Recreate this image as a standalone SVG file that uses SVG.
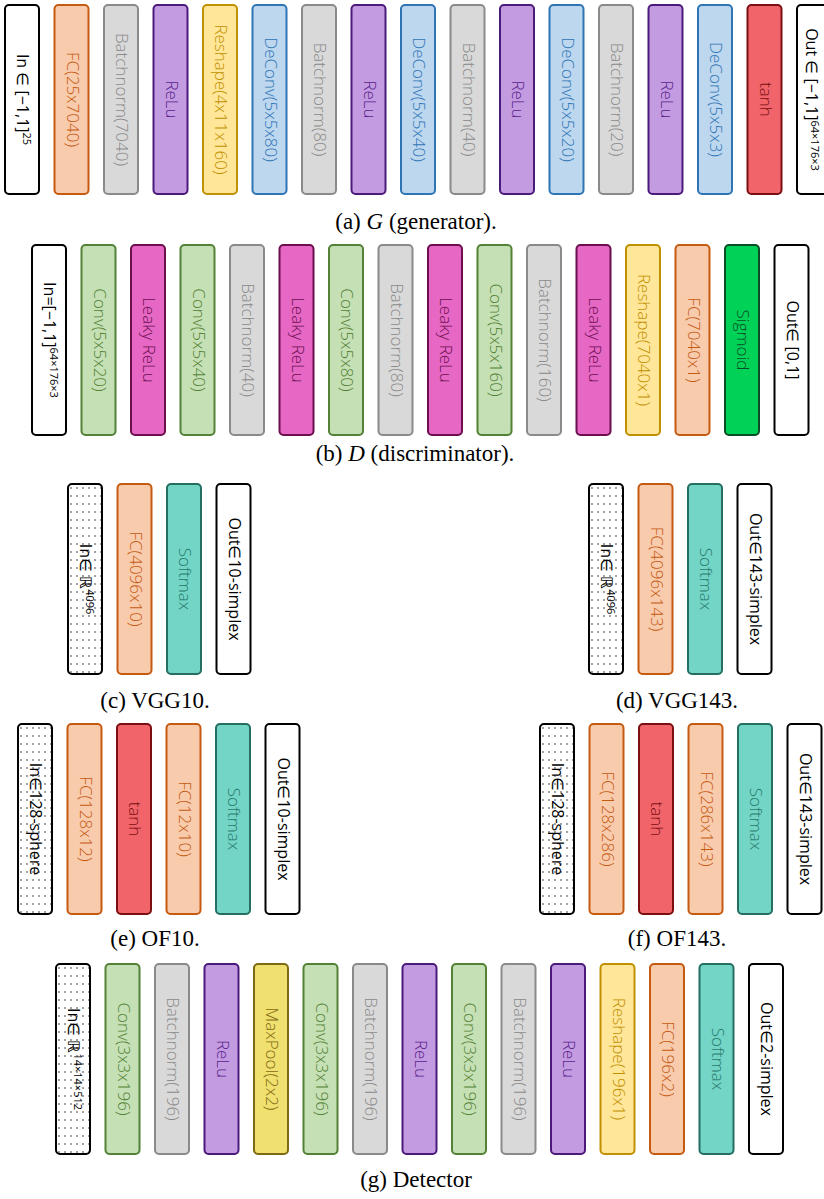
<svg xmlns="http://www.w3.org/2000/svg" width="824" height="1199" viewBox="0 0 824 1199">
<style>
rect.b{stroke-width:2}
text{font-family:"Open Sans","Liberation Sans",sans-serif;font-size:17px;font-weight:300;text-anchor:middle}
.io rect{fill:#fff;stroke:#000}
.io text{fill:#000;font-weight:400;font-size:16px}
.dot rect{fill:url(#dots);stroke:#000}
.dot text{fill:#000;font-weight:400;font-size:16px}
.fc rect{fill:#f8cbad;stroke:#c55a11}
.fc text{fill:#c55a11}
.bn rect{fill:#d9d9d9;stroke:#8a8a8a}
.bn text{fill:#8a8a8a}
.relu rect{fill:#c39be0;stroke:#4b1a7a}
.relu text{fill:#5a1e8c}
.rs rect{fill:#ffe699;stroke:#bf9000}
.rs text{fill:#bf9000}
.dc rect{fill:#bdd7ee;stroke:#2e75b6}
.dc text{fill:#2e75b6}
.tanh rect{fill:#f0646a;stroke:#7b0f12}
.tanh text{fill:#7b0f12}
.conv rect{fill:#c5e0b4;stroke:#538135}
.conv text{fill:#538135}
.lr rect{fill:#e667c4;stroke:#6b0f4f}
.lr text{fill:#6b0f4f}
.sig rect{fill:#00d258;stroke:#0b4e25}
.sig text{fill:#0b4e25}
.sm rect{fill:#72d5c6;stroke:#246f62}
.sm text{fill:#2a7a6c}
.mp rect{fill:#f0e06f;stroke:#7f6a14}
.mp text{fill:#7f6a14}
tspan.sup{font-size:11px}
text.cap{font-family:"Liberation Serif",serif;font-size:23px;font-weight:400;fill:#000;text-anchor:middle}
</style>
<defs>
<pattern id="dots" width="6" height="8" patternUnits="userSpaceOnUse">
<rect width="6" height="8" fill="#fff"/>
<circle cx="3" cy="4" r="0.7" fill="#000"/>
</pattern>
</defs>

<g id="rowA">
<g id="a0" class="io" transform="translate(5,5)"><rect class="b" width="34" height="189" rx="4"/><text transform="translate(17,94.5) rotate(90)" y="5">In ∈ [−1,1]<tspan class="sup" dy="-6">25</tspan></text></g>
<g id="a1" class="fc" transform="translate(54.5,5)"><rect class="b" width="34" height="189" rx="4"/><text transform="translate(17,94.5) rotate(90)" y="5">FC(25x7040)</text></g>
<g id="a2" class="bn" transform="translate(104,5)"><rect class="b" width="34" height="189" rx="4"/><text transform="translate(17,94.5) rotate(90)" y="5">Batchnorm(7040)</text></g>
<g id="a3" class="relu" transform="translate(153.5,5)"><rect class="b" width="34" height="189" rx="4"/><text transform="translate(17,94.5) rotate(90)" y="5">ReLu</text></g>
<g id="a4" class="rs" transform="translate(203,5)"><rect class="b" width="34" height="189" rx="4"/><text transform="translate(17,94.5) rotate(90)" y="5">Reshape(4x11x160)</text></g>
<g id="a5" class="dc" transform="translate(252.5,5)"><rect class="b" width="34" height="189" rx="4"/><text transform="translate(17,94.5) rotate(90)" y="5">DeConv(5x5x80)</text></g>
<g id="a6" class="bn" transform="translate(302,5)"><rect class="b" width="34" height="189" rx="4"/><text transform="translate(17,94.5) rotate(90)" y="5">Batchnorm(80)</text></g>
<g id="a7" class="relu" transform="translate(351.5,5)"><rect class="b" width="34" height="189" rx="4"/><text transform="translate(17,94.5) rotate(90)" y="5">ReLu</text></g>
<g id="a8" class="dc" transform="translate(401,5)"><rect class="b" width="34" height="189" rx="4"/><text transform="translate(17,94.5) rotate(90)" y="5">DeConv(5x5x40)</text></g>
<g id="a9" class="bn" transform="translate(450.5,5)"><rect class="b" width="34" height="189" rx="4"/><text transform="translate(17,94.5) rotate(90)" y="5">Batchnorm(40)</text></g>
<g id="a10" class="relu" transform="translate(500,5)"><rect class="b" width="34" height="189" rx="4"/><text transform="translate(17,94.5) rotate(90)" y="5">ReLu</text></g>
<g id="a11" class="dc" transform="translate(549.5,5)"><rect class="b" width="34" height="189" rx="4"/><text transform="translate(17,94.5) rotate(90)" y="5">DeConv(5x5x20)</text></g>
<g id="a12" class="bn" transform="translate(599,5)"><rect class="b" width="34" height="189" rx="4"/><text transform="translate(17,94.5) rotate(90)" y="5">Batchnorm(20)</text></g>
<g id="a13" class="relu" transform="translate(648.5,5)"><rect class="b" width="34" height="189" rx="4"/><text transform="translate(17,94.5) rotate(90)" y="5">ReLu</text></g>
<g id="a14" class="dc" transform="translate(698,5)"><rect class="b" width="34" height="189" rx="4"/><text transform="translate(17,94.5) rotate(90)" y="5">DeConv(5x5x3)</text></g>
<g id="a15" class="tanh" transform="translate(747.5,5)"><rect class="b" width="34" height="189" rx="4"/><text transform="translate(17,94.5) rotate(90)" y="5">tanh</text></g>
<g id="a16" class="io" transform="translate(797,5)"><rect class="b" width="34" height="189" rx="4"/><text transform="translate(13,94.5) rotate(90)" y="4">Out ∈ [−1,1]<tspan class="sup" dy="-5">64×176×3</tspan></text></g>
<text class="cap" x="416" y="229">(a) <tspan font-style="italic">G</tspan> (generator).</text>
</g>

<g id="rowB">
<g id="b0" class="io" transform="translate(32,245)"><rect class="b" width="34" height="190" rx="4"/><text transform="translate(17,95) rotate(90)" y="5">In=[−1,1]<tspan class="sup" dy="-6">64×176×3</tspan></text></g>
<g id="b1" class="conv" transform="translate(81.5,245)"><rect class="b" width="34" height="190" rx="4"/><text transform="translate(17,95) rotate(90)" y="5">Conv(5x5x20)</text></g>
<g id="b2" class="lr" transform="translate(131,245)"><rect class="b" width="34" height="190" rx="4"/><text transform="translate(17,95) rotate(90)" y="5">Leaky ReLu</text></g>
<g id="b3" class="conv" transform="translate(180.5,245)"><rect class="b" width="34" height="190" rx="4"/><text transform="translate(17,95) rotate(90)" y="5">Conv(5x5x40)</text></g>
<g id="b4" class="bn" transform="translate(230,245)"><rect class="b" width="34" height="190" rx="4"/><text transform="translate(17,95) rotate(90)" y="5">Batchnorm(40)</text></g>
<g id="b5" class="lr" transform="translate(279.5,245)"><rect class="b" width="34" height="190" rx="4"/><text transform="translate(17,95) rotate(90)" y="5">Leaky ReLu</text></g>
<g id="b6" class="conv" transform="translate(329,245)"><rect class="b" width="34" height="190" rx="4"/><text transform="translate(17,95) rotate(90)" y="5">Conv(5x5x80)</text></g>
<g id="b7" class="bn" transform="translate(378.5,245)"><rect class="b" width="34" height="190" rx="4"/><text transform="translate(17,95) rotate(90)" y="5">Batchnorm(80)</text></g>
<g id="b8" class="lr" transform="translate(428,245)"><rect class="b" width="34" height="190" rx="4"/><text transform="translate(17,95) rotate(90)" y="5">Leaky ReLu</text></g>
<g id="b9" class="conv" transform="translate(477.5,245)"><rect class="b" width="34" height="190" rx="4"/><text transform="translate(17,95) rotate(90)" y="5">Conv(5x5x160)</text></g>
<g id="b10" class="bn" transform="translate(527,245)"><rect class="b" width="34" height="190" rx="4"/><text transform="translate(17,95) rotate(90)" y="5">Batchnorm(160)</text></g>
<g id="b11" class="lr" transform="translate(576.5,245)"><rect class="b" width="34" height="190" rx="4"/><text transform="translate(17,95) rotate(90)" y="5">Leaky ReLu</text></g>
<g id="b12" class="rs" transform="translate(626,245)"><rect class="b" width="34" height="190" rx="4"/><text transform="translate(17,95) rotate(90)" y="5">Reshape(7040x1)</text></g>
<g id="b13" class="fc" transform="translate(675.5,245)"><rect class="b" width="34" height="190" rx="4"/><text transform="translate(17,95) rotate(90)" y="5">FC(7040x1)</text></g>
<g id="b14" class="sig" transform="translate(725,245)"><rect class="b" width="34" height="190" rx="4"/><text transform="translate(17,95) rotate(90)" y="5">Sigmoid</text></g>
<g id="b15" class="io" transform="translate(774.5,245)"><rect class="b" width="34" height="190" rx="4"/><text transform="translate(17,95) rotate(90)" y="5">Out∈ [0,1]</text></g>
<text class="cap" x="415" y="461">(b) <tspan font-style="italic">D</tspan> (discriminator).</text>
</g>

<g id="rowC">
<g id="c0" class="dot" transform="translate(68,484)"><rect class="b" width="34" height="190" rx="4"/><text transform="translate(17,95) rotate(90)" y="5">In∈ ℝ<tspan class="sup" dy="-6">4096</tspan></text></g>
<g id="c1" class="fc" transform="translate(117.5,484)"><rect class="b" width="34" height="190" rx="4"/><text transform="translate(17,95) rotate(90)" y="5">FC(4096x10)</text></g>
<g id="c2" class="sm" transform="translate(167,484)"><rect class="b" width="34" height="190" rx="4"/><text transform="translate(17,95) rotate(90)" y="5">Softmax</text></g>
<g id="c3" class="io" transform="translate(216.5,484)"><rect class="b" width="34" height="190" rx="4"/><text transform="translate(17,95) rotate(90)" y="5">Out∈10-simplex</text></g>
<text class="cap" x="155" y="708">(c) VGG10.</text>
</g>

<g id="rowD">
<g id="d0" class="dot" transform="translate(589,484)"><rect class="b" width="34" height="190" rx="4"/><text transform="translate(17,95) rotate(90)" y="5">In∈ ℝ<tspan class="sup" dy="-6">4096</tspan></text></g>
<g id="d1" class="fc" transform="translate(638.5,484)"><rect class="b" width="34" height="190" rx="4"/><text transform="translate(17,95) rotate(90)" y="5">FC(4096x143)</text></g>
<g id="d2" class="sm" transform="translate(688,484)"><rect class="b" width="34" height="190" rx="4"/><text transform="translate(17,95) rotate(90)" y="5">Softmax</text></g>
<g id="d3" class="io" transform="translate(737.5,484)"><rect class="b" width="34" height="190" rx="4"/><text transform="translate(17,95) rotate(90)" y="5">Out∈143-simplex</text></g>
<text class="cap" x="677" y="708">(d) VGG143.</text>
</g>

<g id="rowE">
<g id="e0" class="dot" transform="translate(18,724)"><rect class="b" width="34" height="190" rx="4"/><text transform="translate(17,95) rotate(90)" y="5">In∈128-sphere</text></g>
<g id="e1" class="fc" transform="translate(67.5,724)"><rect class="b" width="34" height="190" rx="4"/><text transform="translate(17,95) rotate(90)" y="5">FC(128x12)</text></g>
<g id="e2" class="tanh" transform="translate(117,724)"><rect class="b" width="34" height="190" rx="4"/><text transform="translate(17,95) rotate(90)" y="5">tanh</text></g>
<g id="e3" class="fc" transform="translate(166.5,724)"><rect class="b" width="34" height="190" rx="4"/><text transform="translate(17,95) rotate(90)" y="5">FC(12x10)</text></g>
<g id="e4" class="sm" transform="translate(216,724)"><rect class="b" width="34" height="190" rx="4"/><text transform="translate(17,95) rotate(90)" y="5">Softmax</text></g>
<g id="e5" class="io" transform="translate(265.5,724)"><rect class="b" width="34" height="190" rx="4"/><text transform="translate(17,95) rotate(90)" y="5">Out∈10-simplex</text></g>
<text class="cap" x="155" y="946">(e) OF10.</text>
</g>

<g id="rowF">
<g id="f0" class="dot" transform="translate(540,724)"><rect class="b" width="34" height="190" rx="4"/><text transform="translate(17,95) rotate(90)" y="5">In∈128-sphere</text></g>
<g id="f1" class="fc" transform="translate(589.5,724)"><rect class="b" width="34" height="190" rx="4"/><text transform="translate(17,95) rotate(90)" y="5">FC(128x286)</text></g>
<g id="f2" class="tanh" transform="translate(639,724)"><rect class="b" width="34" height="190" rx="4"/><text transform="translate(17,95) rotate(90)" y="5">tanh</text></g>
<g id="f3" class="fc" transform="translate(688.5,724)"><rect class="b" width="34" height="190" rx="4"/><text transform="translate(17,95) rotate(90)" y="5">FC(286x143)</text></g>
<g id="f4" class="sm" transform="translate(738,724)"><rect class="b" width="34" height="190" rx="4"/><text transform="translate(17,95) rotate(90)" y="5">Softmax</text></g>
<g id="f5" class="io" transform="translate(787.5,724)"><rect class="b" width="34" height="190" rx="4"/><text transform="translate(17,95) rotate(90)" y="5">Out∈143-simplex</text></g>
<text class="cap" x="677" y="946">(f) OF143.</text>
</g>

<g id="rowG">
<g id="g0" class="dot" transform="translate(56,964)"><rect class="b" width="34" height="190" rx="4"/><text transform="translate(17,95) rotate(90)" y="5">In∈ ℝ<tspan class="sup" dy="-6">14×14×512</tspan></text></g>
<g id="g1" class="conv" transform="translate(105.5,964)"><rect class="b" width="34" height="190" rx="4"/><text transform="translate(17,95) rotate(90)" y="5">Conv(3x3x196)</text></g>
<g id="g2" class="bn" transform="translate(155,964)"><rect class="b" width="34" height="190" rx="4"/><text transform="translate(17,95) rotate(90)" y="5">Batchnorm(196)</text></g>
<g id="g3" class="relu" transform="translate(204.5,964)"><rect class="b" width="34" height="190" rx="4"/><text transform="translate(17,95) rotate(90)" y="5">ReLu</text></g>
<g id="g4" class="mp" transform="translate(254,964)"><rect class="b" width="34" height="190" rx="4"/><text transform="translate(17,95) rotate(90)" y="5">MaxPool(2x2)</text></g>
<g id="g5" class="conv" transform="translate(303.5,964)"><rect class="b" width="34" height="190" rx="4"/><text transform="translate(17,95) rotate(90)" y="5">Conv(3x3x196)</text></g>
<g id="g6" class="bn" transform="translate(353,964)"><rect class="b" width="34" height="190" rx="4"/><text transform="translate(17,95) rotate(90)" y="5">Batchnorm(196)</text></g>
<g id="g7" class="relu" transform="translate(402.5,964)"><rect class="b" width="34" height="190" rx="4"/><text transform="translate(17,95) rotate(90)" y="5">ReLu</text></g>
<g id="g8" class="conv" transform="translate(452,964)"><rect class="b" width="34" height="190" rx="4"/><text transform="translate(17,95) rotate(90)" y="5">Conv(3x3x196)</text></g>
<g id="g9" class="bn" transform="translate(501.5,964)"><rect class="b" width="34" height="190" rx="4"/><text transform="translate(17,95) rotate(90)" y="5">Batchnorm(196)</text></g>
<g id="g10" class="relu" transform="translate(551,964)"><rect class="b" width="34" height="190" rx="4"/><text transform="translate(17,95) rotate(90)" y="5">ReLu</text></g>
<g id="g11" class="rs" transform="translate(600.5,964)"><rect class="b" width="34" height="190" rx="4"/><text transform="translate(17,95) rotate(90)" y="5">Reshape(196x1)</text></g>
<g id="g12" class="fc" transform="translate(650,964)"><rect class="b" width="34" height="190" rx="4"/><text transform="translate(17,95) rotate(90)" y="5">FC(196x2)</text></g>
<g id="g13" class="sm" transform="translate(699.5,964)"><rect class="b" width="34" height="190" rx="4"/><text transform="translate(17,95) rotate(90)" y="5">Softmax</text></g>
<g id="g14" class="io" transform="translate(749,964)"><rect class="b" width="34" height="190" rx="4"/><text transform="translate(17,95) rotate(90)" y="5">Out∈2-simplex</text></g>
<text class="cap" x="416" y="1187">(g) Detector</text>
</g>
</svg>
